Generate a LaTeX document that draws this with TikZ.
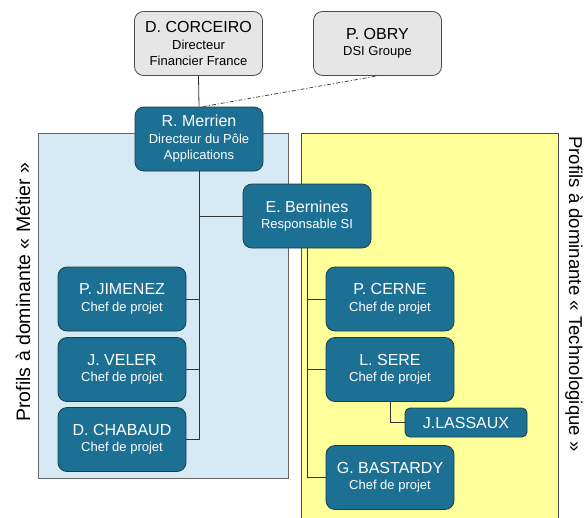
\documentclass[tikz,border=0pt]{standalone}
\usepackage{fontspec}
\setmainfont{Liberation Sans}
\usetikzlibrary{calc}

\definecolor{boxteal}{RGB}{28,112,148}
\definecolor{boxedge}{RGB}{30,60,75}
\definecolor{boxgray}{RGB}{230,230,230}
\definecolor{bgblue}{RGB}{214,234,245}
\definecolor{bgyellow}{RGB}{255,255,153}

\newcommand{\nomfont}{\fontsize{16}{17}\selectfont}
\newcommand{\rolefont}{\fontsize{13}{16.5}\selectfont}

\tikzset{
  chef/.style={draw=boxedge, fill=boxteal, text=white, rounded corners=9pt,
    minimum width=128pt, minimum height=64pt, align=center, inner sep=1pt,
    line width=0.8pt, font=\rolefont},
  direction/.style={chef, draw=black!70, fill=boxgray, text=black},
  petit/.style={chef, minimum width=122pt, minimum height=29pt, rounded corners=5pt},
  lien/.style={draw=black!80, line width=0.8pt},
  profil/.style={font=\fontsize{19}{21}\selectfont, inner sep=0pt},
}

\begin{document}
\begin{tikzpicture}[x=1pt, y=-1pt]
\useasboundingbox (0,0) rectangle (586,517);

% zones
\filldraw[fill=bgblue, draw=black!60, line width=0.8pt] (38,133) rectangle (288,478);
\filldraw[fill=bgyellow, draw=black!70, line width=0.8pt] (301,133) rectangle (558,530);
\node[profil, font=\fontsize{19.5}{21}\selectfont, rotate=90] (metier) at (23,292) {Profils à dominante « Métier »};
\node[profil, font=\fontsize{18.6}{21}\selectfont, rotate=-90] (techno) at (574,294) {Profils à dominante « Technologique »};

% personnes
\node[direction] (corceiro) at (198.5,43.5) {{\nomfont D. CORCEIRO}\\Directeur\\Financier France};
\node[direction] (obry) at (377.5,43.5) {{\nomfont P. OBRY}\\DSI Groupe};
\node[chef] (merrien) at (199,139) {{\nomfont R. Merrien}\\Directeur du Pôle\\Applications};
\node[chef] (bernines) at (307,216) {{\nomfont E. Bernines}\\Responsable SI};
\node[chef] (jimenez) at (122,299) {{\nomfont P. JIMENEZ}\\Chef de projet};
\node[chef] (veler) at (122,369.5) {{\nomfont J. VELER}\\Chef de projet};
\node[chef] (chabaud) at (122,439.5) {{\nomfont D. CHABAUD}\\Chef de projet};
\node[chef] (cerne) at (390,299) {{\nomfont P. CERNE}\\Chef de projet};
\node[chef] (sere) at (390,369.5) {{\nomfont L. SERE}\\Chef de projet};
\node[chef] (bastardy) at (390,477.5) {{\nomfont G. BASTARDY}\\Chef de projet};
\node[petit] (lassaux) at (466,422.5) {\nomfont J.LASSAUX};

% liens
\draw[lien] (corceiro.south) -- (merrien.north);
\draw[black!70, line width=0.8pt, dash pattern=on 4pt off 2pt on 1pt off 2pt] ($(merrien.north)+(4,0)$) -- (obry.south);
\draw[lien] (merrien.south) |- (chabaud.east);
\foreach \n in {jimenez, veler}
  \draw[lien] (merrien.south |- \n.east) -- (\n.east);
\draw[lien] (merrien.south |- bernines.west) -- (bernines.west);
\draw[lien] (bernines.south) |- (bastardy.west);
\foreach \n in {cerne, sere}
  \draw[lien] (bernines.south |- \n.west) -- (\n.west);
\draw[lien] (sere.south) |- (lassaux.west);
\end{tikzpicture}
\end{document}
